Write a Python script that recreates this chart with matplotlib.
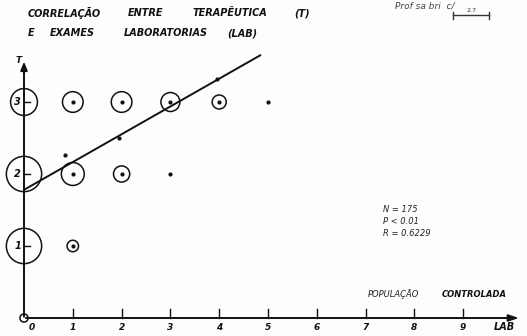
import matplotlib
matplotlib.use("Agg")
import matplotlib.pyplot as plt
import numpy as np

# frequency table: LAB (x) vs T (y), count per cell
lab = [0, 0, 0, 0, 1, 2, 3, 4, 5, 1, 2, 3, 1]
ter = [3, 2, 1, 0, 3, 3, 3, 3, 3, 2, 2, 2, 1]
count = [22, 38, 38, 2, 13, 13, 11, 6, 1, 16, 8, 1, 4]

# mean points drawn along the fitted line
mean_lab = [0.85, 1.95, 3.95]
mean_ter = [2.26, 2.50, 3.32]

# regression line T = a + b * LAB
intercept = 1.78
slope = 0.386
line_end = 4.84

x_ticks = [1, 2, 3, 4, 5, 6, 7, 8, 9]
y_ticks = [1, 2, 3]
stats = ["N = 175", "P < 0.01", "R = 0.6229"]

HAND = dict(family="DejaVu Sans", style="italic", weight="bold", color="#111")

fig = plt.figure(figsize=(5.27, 3.36), dpi=100)
fig.patch.set_facecolor("#fdfdfd")
ax = fig.add_axes([0, 0, 1, 1])
ax.set_xlim(-24 / 48.8, 503 / 48.8)
ax.set_ylim(-18 / 72, 318 / 72)
ax.axis("off")

# axes drawn by hand
ax.annotate("", xy=(0, 3.6), xytext=(0, -0.02),
            arrowprops=dict(arrowstyle="-|>,head_length=0.5,head_width=0.2", lw=1.4, color="#111"))
ax.annotate("", xy=(10.2, 0), xytext=(-0.02, 0),
            arrowprops=dict(arrowstyle="-|>,head_length=0.6,head_width=0.2", lw=1.4, color="#111"))
ax.text(-0.05, 3.58, "T", ha="right", va="center", fontsize=6.5, **HAND)
ax.text(9.85, -0.12, "LAB", ha="center", va="center", fontsize=7, **HAND)

for xt in x_ticks:
    ax.plot([xt, xt], [0, 0.12], color="#111", lw=1.0)
    ax.text(xt, -0.13, str(xt), ha="center", va="center", fontsize=6.5, **HAND)
ax.text(0.17, -0.13, "0", ha="center", va="center", fontsize=6.5, **HAND)

for yt in y_ticks:
    ax.plot([0, 0.12], [yt, yt], color="#111", lw=1.0)
    ax.text(-0.06, yt, str(yt), ha="right", va="center", fontsize=7, **HAND)

# bubbles (area proportional to count)
cnt = np.array(count)
big = cnt > 1
ax.scatter(np.array(lab)[big], np.array(ter)[big], s=17 * cnt[big],
           facecolors="none", edgecolors="#111", linewidths=1.1, zorder=3)
inner = np.array(lab) > 0
ax.scatter(np.array(lab)[inner], np.array(ter)[inner], s=4, color="#111", zorder=4)

# fitted line and means
xs = np.array([0, line_end])
ax.plot(xs, intercept + slope * xs, color="#111", lw=1.4, zorder=2)
ax.scatter(mean_lab, mean_ter, s=4, color="#111", zorder=4)

# title
row1 = [("CORRELAÇÃO", 28), ("ENTRE", 128), ("TERAPÊUTICA", 193), ("(T)", 294)]
row2 = [("E", 28), ("EXAMES", 50), ("LABORATORIAS", 124), ("(LAB)", 227)]
for words, ypx in ((row1, 13), (row2, 33)):
    for word, xpx in words:
        fig.text(xpx / 527, 1 - ypx / 336, word, ha="left", va="center", fontsize=7, **HAND)

# statistics block
for i, s in enumerate(stats):
    ax.text(7.35, 1.50 - i * 0.165, s, ha="left", va="center", fontsize=6,
            family="DejaVu Sans", style="italic", color="#222")

ax.text(7.05, 0.33, "POPULAÇÃO", ha="left", va="center", fontsize=6,
        family="DejaVu Sans", style="italic", color="#222")
ax.text(8.55, 0.33, "CONTROLADA", ha="left", va="center", fontsize=6, **HAND)

# handwritten note, top right
fig.text(395 / 527, 1 - 6 / 336, "Prof sa bri  c/", ha="left", va="center", fontsize=6.5,
         family="DejaVu Sans", style="italic", color="#444")
ax.plot([453 / 48.8 - 0.49, 489 / 48.8 - 0.49], [(318 - 15) / 72] * 2, color="#333", lw=1.0)
ax.plot([453 / 48.8 - 0.49] * 2, [(318 - 12) / 72, (318 - 19) / 72], color="#333", lw=1.0)
ax.plot([489 / 48.8 - 0.49] * 2, [(318 - 12) / 72, (318 - 19) / 72], color="#333", lw=1.0)
fig.text(471 / 527, 1 - 11 / 336, "2.7", ha="center", va="center", fontsize=4.5, color="#333")

fig.savefig("out.png", dpi=100, facecolor=fig.get_facecolor())
